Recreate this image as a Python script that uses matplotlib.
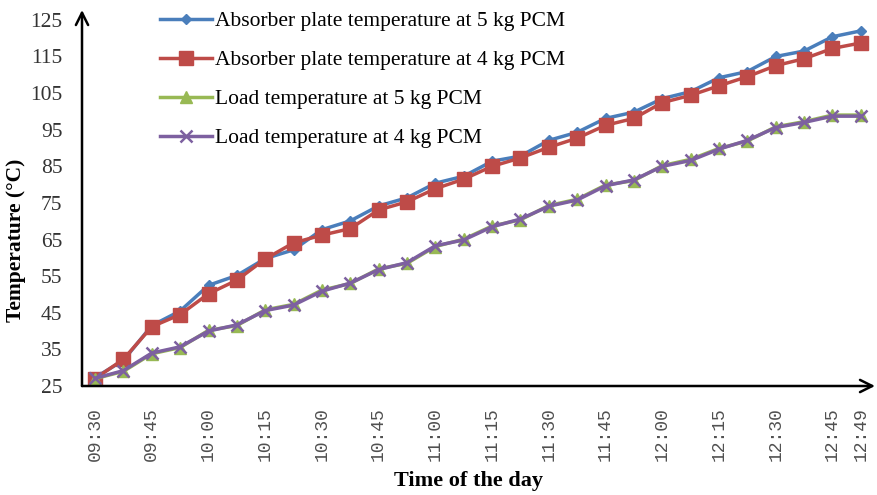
import matplotlib.pyplot as plt
import numpy as np

# category labels on the time axis (every other category is unlabelled)
time_labels = [
    "09:30", "", "09:45", "", "10:00", "", "10:15", "", "10:30", "", "10:45", "",
    "11:00", "", "11:15", "", "11:30", "", "11:45", "", "12:00", "", "12:15", "",
    "12:30", "", "12:45", "12:49",
]

absorber_5kg = [
    27.3, 32.0, 41.5, 45.5, 52.5, 55.2, 59.8, 62.2, 67.7, 70.1, 74.2, 76.4,
    80.4, 82.3, 86.4, 87.8, 92.1, 94.3, 98.1, 99.8, 103.5, 105.4, 109.2, 110.9,
    115.0, 116.5, 120.4, 122.0,
]
absorber_4kg = [
    27.0, 32.3, 41.2, 44.5, 50.2, 53.9, 59.7, 64.1, 66.2, 68.0, 73.1, 75.3,
    78.9, 81.5, 85.0, 87.3, 90.2, 92.7, 96.2, 98.1, 102.4, 104.4, 107.0, 109.5,
    112.5, 114.4, 117.2, 118.7,
]
load_5kg = [
    27.0, 29.0, 33.8, 35.5, 40.2, 41.5, 45.8, 47.3, 51.2, 53.0, 57.0, 58.5,
    63.1, 65.1, 68.7, 70.4, 74.3, 76.0, 79.9, 81.1, 85.2, 86.9, 89.9, 91.9,
    95.8, 97.2, 99.0, 99.0,
]
load_4kg = [
    27.1, 29.2, 34.0, 35.7, 40.0, 41.7, 45.6, 47.1, 50.9, 53.1, 56.8, 58.7,
    63.3, 64.9, 68.5, 70.6, 74.1, 75.8, 79.7, 81.3, 85.0, 86.6, 89.7, 92.1,
    95.6, 97.0, 98.7, 98.7,
]

series = [
    ("Absorber plate temperature at 5 kg PCM", absorber_5kg, "#4A7EBB", "D", 5.5),
    ("Absorber plate temperature at 4 kg PCM", absorber_4kg, "#BE4B48", "s", 10),
    ("Load temperature at 5 kg PCM", load_5kg, "#98B954", "^", 8),
    ("Load temperature at 4 kg PCM", load_4kg, "#7D60A0", "x", 8),
]

plt.rcParams["font.family"] = ["Liberation Serif", "DejaVu Serif"]

fig = plt.figure(figsize=(8.78, 4.95), dpi=100)
ax = fig.add_axes([0.0934, 0.2202, 0.9032, 0.7596])

x = np.arange(len(time_labels))
for label, vals, color, marker, ms in series:
    kw = dict(markeredgewidth=1.8) if marker == "x" else dict(markeredgecolor=color)
    ax.plot(x, vals, color=color, linewidth=2.5, marker=marker, markersize=ms,
            label=label, **kw)

ax.set_xlim(-0.46, len(time_labels) - 0.5)
ax.set_ylim(25, 127.7)
ax.set_yticks(np.arange(25, 126, 10))
ax.set_xticks(x)
ax.set_xticklabels(time_labels, rotation=90, fontfamily="Liberation Mono",
                   fontsize=13, color="#505050", va="top")
ax.tick_params(axis="x", length=0, pad=15)
ax.tick_params(axis="y", length=0, pad=14, labelsize=15.5, labelcolor="#333333")

for s in ax.spines.values():
    s.set_visible(False)
arrow = dict(arrowstyle="->", lw=1.8, color="black", mutation_scale=22,
             shrinkA=0, shrinkB=0)
ax.annotate("", xy=(0, 1), xytext=(0, 0), xycoords="axes fraction", arrowprops=arrow)
ax.annotate("", xy=(1, 0), xytext=(0, 0), xycoords="axes fraction", arrowprops=arrow)

fig.text(16 / 878, 1 - 240 / 495, "Temperature (°C)", fontsize=15.5, fontweight="bold",
         rotation=90, ha="center", va="center")
fig.text(469 / 878, 1 - 481 / 495, "Time of the day", fontsize=16, fontweight="bold",
         ha="center", va="center")

ax.legend(loc="upper left", bbox_to_anchor=(160 / 878, 1 - 11 / 495),
          bbox_transform=fig.transFigure, frameon=False, fontsize=15.5,
          handlelength=2.4, handletextpad=0.15, labelspacing=0.88, borderpad=0,
          borderaxespad=0)

fig.savefig("out.png", dpi=100)
